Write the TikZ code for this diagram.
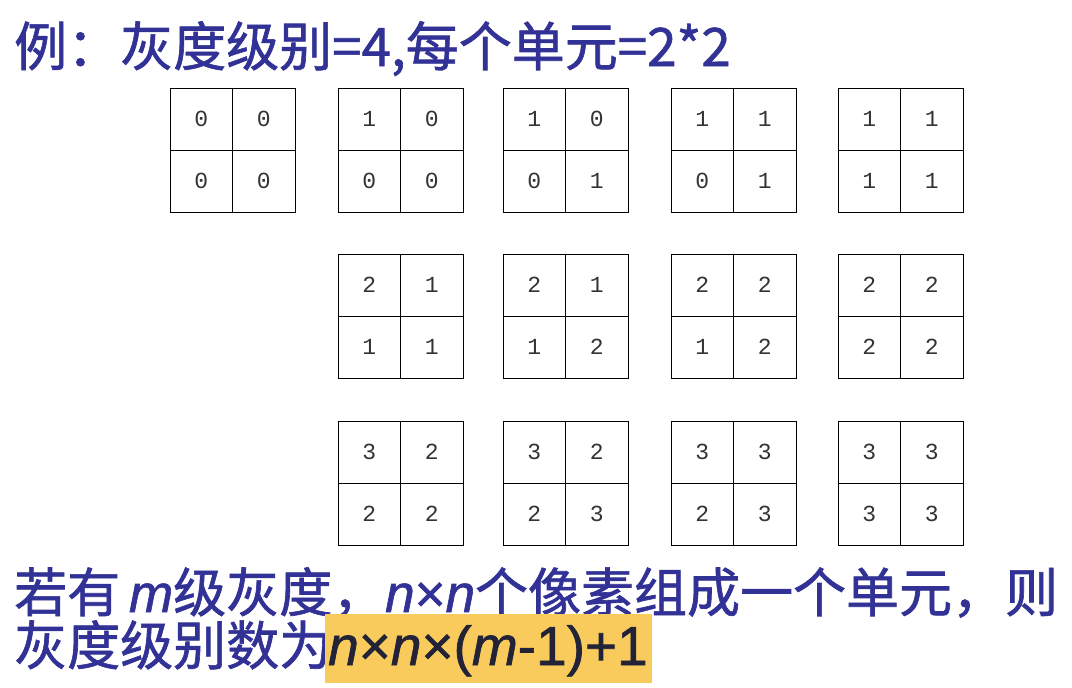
\documentclass[tikz,border=0pt]{standalone}
\usepackage{fontspec}
\setmainfont{Liberation Sans}
\newfontfamily\cjk[FakeBold=1.2]{Noto Sans CJK SC}
\newfontfamily\monof{Liberation Mono}
\newfontfamily\varf[FakeBold=1.2]{Liberation Sans}
\definecolor{tblue}{RGB}{50,50,150}
\definecolor{hl}{RGB}{249,203,92}
\definecolor{fdark}{RGB}{35,35,55}
\newcommand\iv[1]{{\varf\itshape #1}}
\newcommand\pixgrid[7]{%
  \node[cellbox] (#1a) at ({#2+31.25},{#3+31}) {#4};
  \node[cellbox] (#1b) at ({#2+93.75},{#3+31}) {#5};
  \node[cellbox] (#1c) at ({#2+31.25},{#3+93}) {#6};
  \node[cellbox] (#1d) at ({#2+93.75},{#3+93}) {#7};
}
\begin{document}
\begin{tikzpicture}[x=1pt,y=-1pt,
  cellbox/.style={draw=black,line width=1pt,minimum width=62.5pt,minimum height=62pt,inner sep=0pt,
    font=\monof\fontsize{23}{23}\selectfont,text=black!80},
  bigtext/.style={anchor=base west,inner sep=0pt,text=tblue,font=\cjk\fontsize{53}{53}\selectfont}]
\useasboundingbox (0,0) rectangle (1072,688);
\node[bigtext] (title) at (14,66) {例：灰度级别=4,每个单元=2*2};
% row 1
\pixgrid{g1}{170}{88}{0}{0}{0}{0}
\pixgrid{g2}{338}{88}{1}{0}{0}{0}
\pixgrid{g3}{503}{88}{1}{0}{0}{1}
\pixgrid{g4}{671}{88}{1}{1}{0}{1}
\pixgrid{g5}{838}{88}{1}{1}{1}{1}
% row 2
\pixgrid{g6}{338}{254}{2}{1}{1}{1}
\pixgrid{g7}{503}{254}{2}{1}{1}{2}
\pixgrid{g8}{671}{254}{2}{2}{1}{2}
\pixgrid{g9}{838}{254}{2}{2}{2}{2}
% row 3
\pixgrid{g10}{338}{421}{3}{2}{2}{2}
\pixgrid{g11}{503}{421}{3}{2}{2}{3}
\pixgrid{g12}{671}{421}{3}{3}{2}{3}
\pixgrid{g13}{838}{421}{3}{3}{3}{3}
% bottom text
\node[bigtext] (line1) at (14,612) {若有\,\iv{m}级灰度，\iv{n}{\varf×}\iv{n}个像素组成一个单元，则};
\node[bigtext] (line2) at (14,665) {灰度级别数为};
\node[anchor=north west,fill=hl,inner sep=0pt,minimum width=327pt,minimum height=69pt] (hlbox) at (325,614) {};
\node[anchor=base west,inner sep=0pt,text=fdark,font=\varf\fontsize{55}{55}\selectfont] (formula) at (328,665) {\iv{n}×\iv{n}×(\iv{m}-1)+1};
\end{tikzpicture}
\end{document}
